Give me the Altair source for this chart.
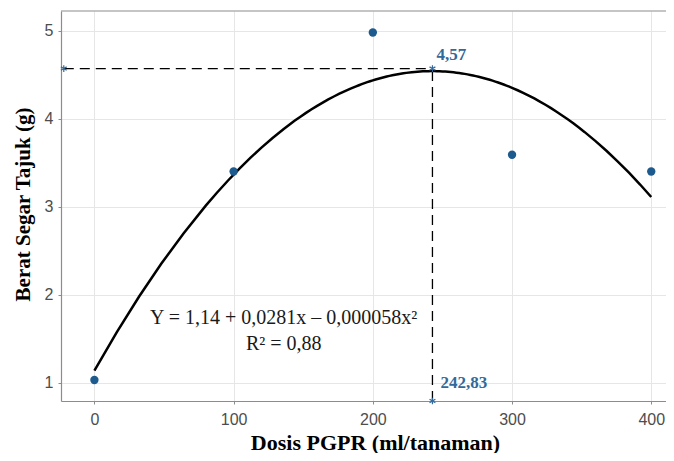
import altair as alt
import pandas as pd

# ---- data ----
dosis = [0, 100, 200, 300, 400]
berat = [1.03, 3.40, 4.98, 3.59, 3.40]
opt_x = 242.83
opt_y = 4.57
opt_x_label = "242,83"
opt_y_label = "4,57"
eq_lines = ["Y = 1,14 + 0,0281x \u2013 0,000058x\u00b2", "R\u00b2 = 0,88"]
x_ticks = [0, 100, 200, 300, 400]
y_ticks = [1, 2, 3, 4, 5]
x_domain = [-24, 410.6]
y_domain = [0.792, 5.224]
left_star_x = -22

df = pd.DataFrame({"x": dosis, "y": berat})
stars = pd.DataFrame({"x": [left_star_x, opt_x, opt_x], "y": [opt_y, opt_y, y_domain[0]]})
one = pd.DataFrame({"k": [0]})

xs = alt.Scale(domain=x_domain, nice=False, zero=False)
ys = alt.Scale(domain=y_domain, nice=False, zero=False)

FRAME = "#8c8c8c"
GRID = "#e6e6e6"
BLUE_PT = "#1d5a8e"
BLUE_LBL = "#33699a"
SERIF = "Liberation Serif"

x_axis = alt.Axis(
    orient="bottom", values=x_ticks, grid=True, gridColor=GRID, gridWidth=1,
    domainColor=FRAME, domainWidth=1.2, tickColor=FRAME, tickSize=3,
    labelFont="Liberation Sans", labelFontSize=16, labelColor="#4d4d4d", labelPadding=7,
    title="Dosis PGPR (ml/tanaman)", titleFont=SERIF, titleFontSize=22,
    titleFontWeight="bold", titleColor="#000000", titleX=314, titleY=48,
    titleAlign="center", titleBaseline="alphabetic",
)
y_axis = alt.Axis(
    orient="left", values=y_ticks, grid=True, gridColor=GRID, gridWidth=1,
    domainColor=FRAME, domainWidth=1.2, tickColor=FRAME, tickSize=3,
    labelFont="Liberation Sans", labelFontSize=16, labelColor="#4d4d4d", labelPadding=5,
    title="Berat Segar Tajuk (g)", titleFont=SERIF, titleFontSize=21,
    titleFontWeight="bold", titleColor="#000000", titleX=-32, titleY=193,
    titleAlign="center", titleBaseline="alphabetic", titleAngle=270,
)


def X(field=None, datum=None):
    if datum is not None:
        return alt.datum(datum, scale=xs, axis=x_axis)
    return alt.X(field, scale=xs, axis=x_axis)


def Y(field=None, datum=None):
    if datum is not None:
        return alt.datum(datum, scale=ys, axis=y_axis)
    return alt.Y(field, scale=ys, axis=y_axis)


curve = alt.Chart(df).transform_regression(
    "x", "y", method="poly", order=2, extent=[0, 400]
).mark_line(color="black", strokeWidth=2.5).encode(x=X("x:Q"), y=Y("y:Q"))

points = alt.Chart(df).mark_circle(size=70, color=BLUE_PT, opacity=1).encode(
    x=X("x:Q"), y=Y("y:Q")
)

top_border = alt.Chart(one).mark_rule(color=FRAME, strokeWidth=1.2).encode(
    x=X(datum=x_domain[0]), x2=alt.datum(x_domain[1]), y=Y(datum=y_domain[1])
)

h_dash = alt.Chart(one).mark_rule(color="black", strokeWidth=1.3, strokeDash=[10, 6]).encode(
    x=X(datum=left_star_x), x2=alt.datum(opt_x), y=Y(datum=opt_y)
)
v_dash = alt.Chart(one).mark_rule(color="black", strokeWidth=1.3, strokeDash=[10, 6]).encode(
    x=X(datum=opt_x), y=Y(datum=y_domain[0]), y2=alt.datum(opt_y)
)

star_path = "M0,-1L0,1M-0.87,-0.5L0.87,0.5M-0.87,0.5L0.87,-0.5"
star_marks = alt.Chart(stars).mark_point(
    shape=star_path, filled=False, color=BLUE_LBL, strokeWidth=1.2, size=45, opacity=1
).encode(x=X("x:Q"), y=Y("y:Q"))

lbl_y = alt.Chart(one).mark_text(
    text=opt_y_label, font=SERIF, fontSize=17, fontWeight="bold", color=BLUE_LBL,
    align="left", baseline="alphabetic", dx=4, dy=-9,
).encode(x=X(datum=opt_x), y=Y(datum=opt_y))

lbl_x = alt.Chart(one).mark_text(
    text=opt_x_label, font=SERIF, fontSize=17, fontWeight="bold", color=BLUE_LBL,
    align="left", baseline="alphabetic", dx=8, dy=-13,
).encode(x=X(datum=opt_x), y=Y(datum=y_domain[0]))

eq = alt.Chart(one).mark_text(
    text=eq_lines, font=SERIF, fontSize=20, color="#1a1a1a",
    align="center", baseline="alphabetic", lineHeight=26,
).encode(x=X(datum=136), y=Y(datum=1.667))

chart = alt.layer(
    top_border, curve, h_dash, v_dash, points, star_marks, lbl_y, lbl_x, eq
).properties(
    width=605, height=390,
    autosize=alt.AutoSizeParams(type="none"),
    padding={"left": 53, "top": 3, "right": 0, "bottom": 52},
    background="white",
).configure_view(stroke="transparent")

chart.save("out.html", embed_options={"renderer": "svg", "actions": False})
